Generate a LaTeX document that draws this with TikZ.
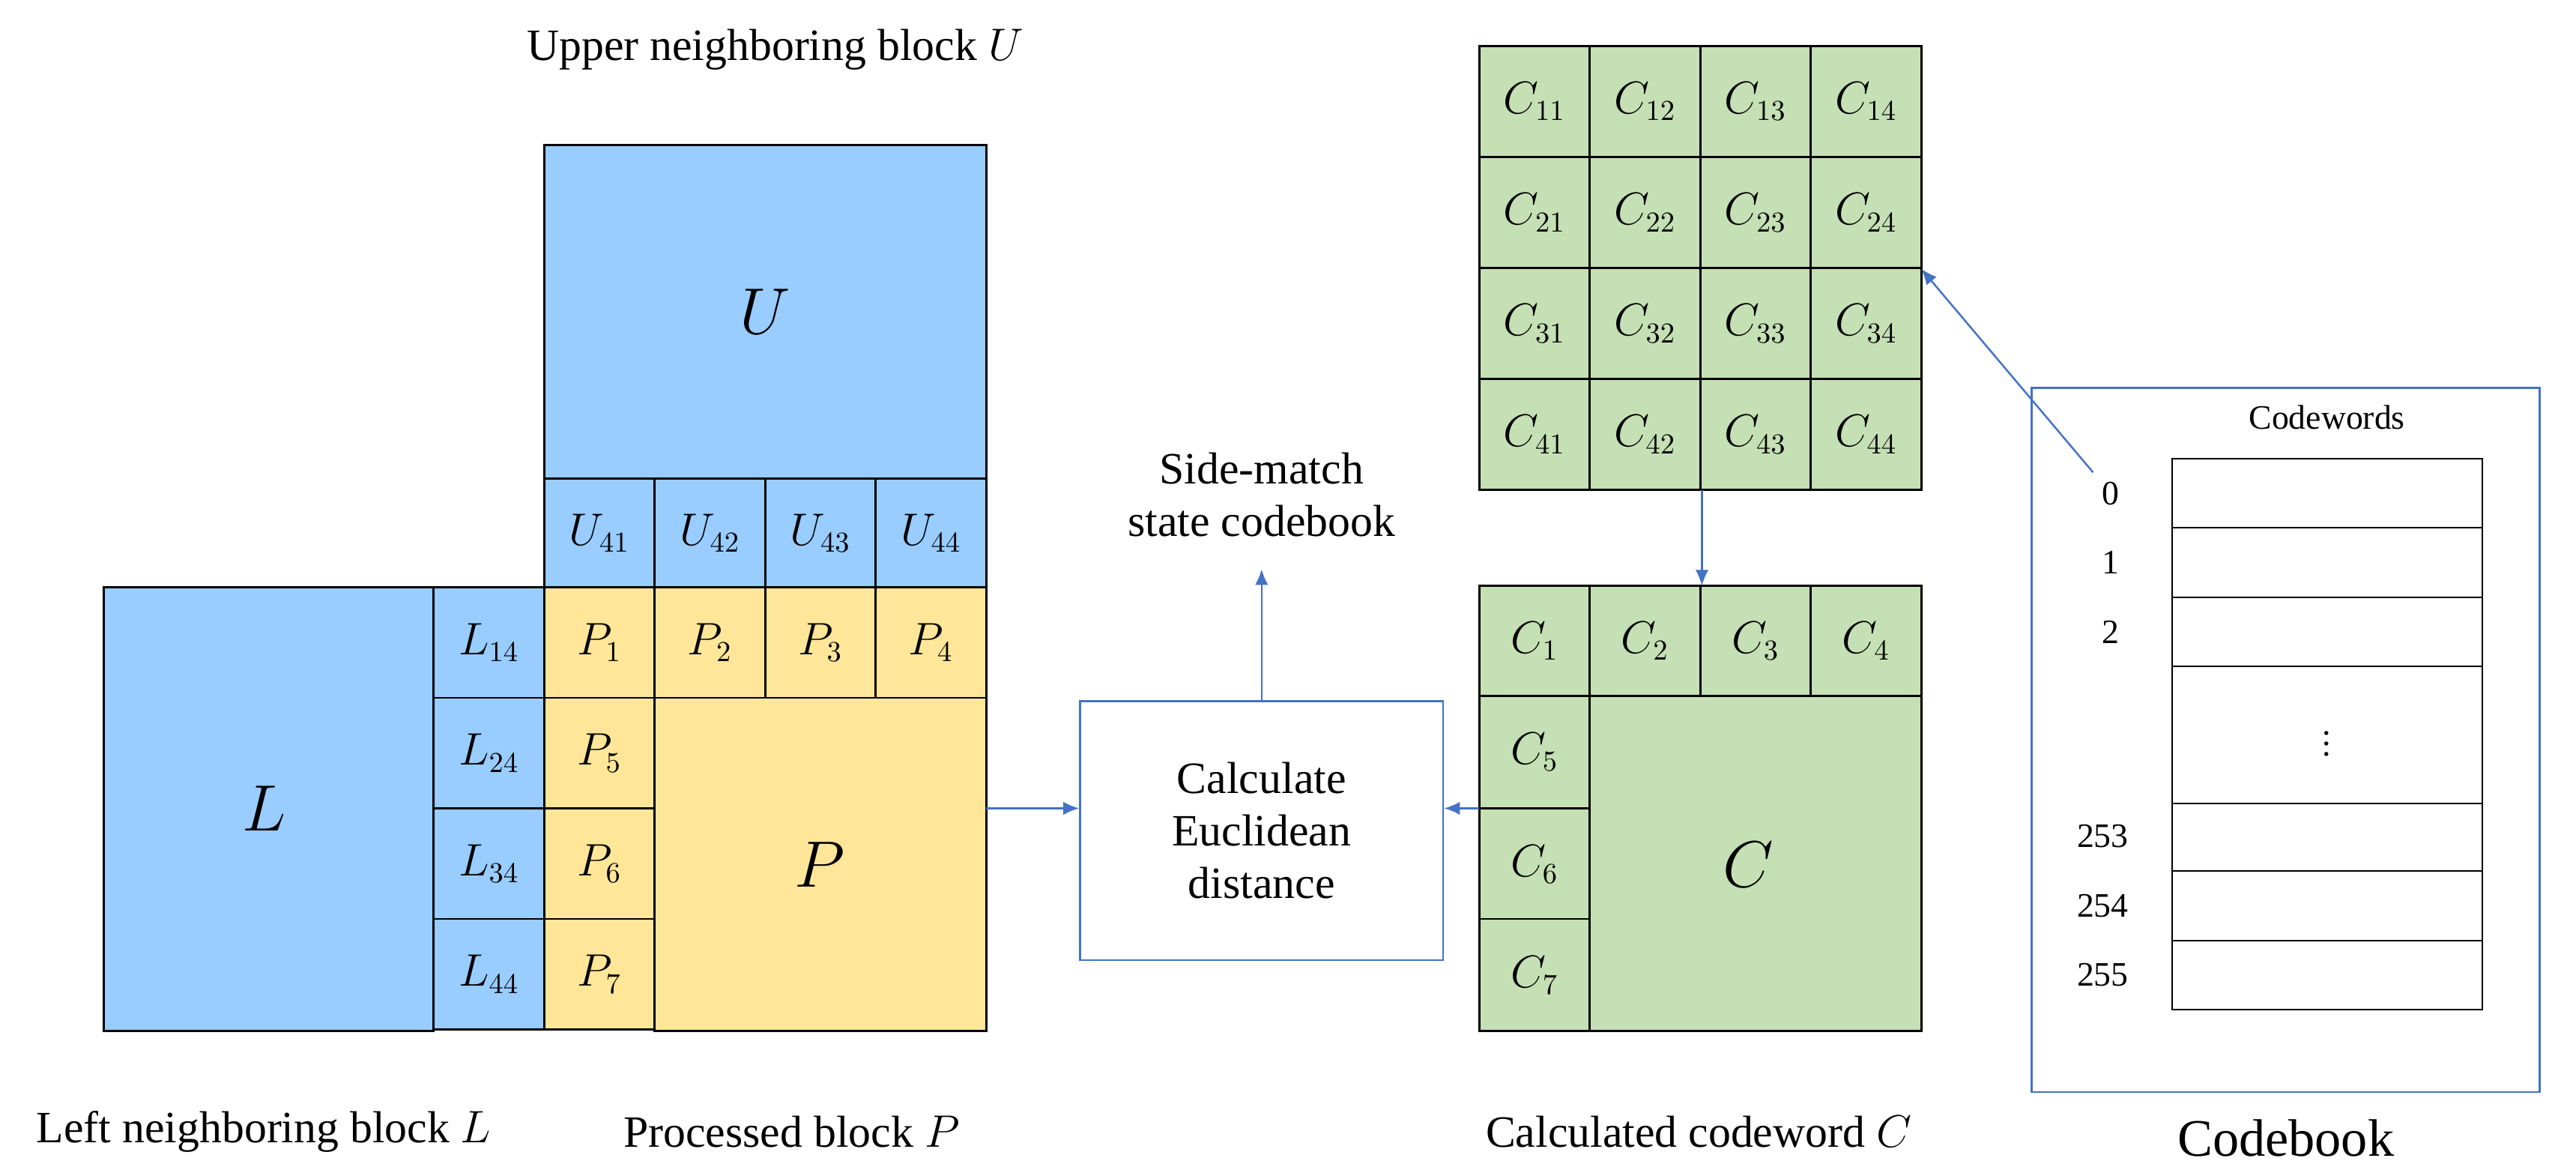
\documentclass[tikz,border=0pt]{standalone}
\usepackage{fontspec}
\setmainfont{Liberation Serif}
\usetikzlibrary{arrows.meta}
\definecolor{cb}{HTML}{99CCFF}
\definecolor{cy}{HTML}{FFE699}
\definecolor{cg}{HTML}{C5E0B4}
\definecolor{ar}{HTML}{4472C4}
\begin{document}
\begin{tikzpicture}[x=0.022cm,y=-0.022cm,
 cell/.style={draw=black,line width=0.8pt},
 lab/.style={font=\fontsize{16}{18}\selectfont},
 big/.style={font=\fontsize{38}{40}\selectfont},
 capt/.style={font=\fontsize{17}{20}\selectfont},
 num/.style={font=\fontsize{13}{15}\selectfont},
 arr/.style={draw=ar,line width=0.7pt,-{Latex[length=6pt,width=5pt]}}]
\useasboundingbox (0,0) rectangle (1562,707);
% U
\draw[cell,fill=cb] (330,88) rectangle (598,290);
\node[big] (U) at (464,189) {$U$};
\foreach \i/\x in {1/330,2/397,3/464,4/531}{
 \draw[cell,fill=cb] (\x,290) rectangle +(67,66);
 \node[lab] (u\i) at (\x+33.5,323) {$U_{4\i}$};
 \draw[cell,fill=cy] (\x,356) rectangle +(67,67);
 \node[lab] (p\i) at (\x+33.5,389.5) {$P_{\i}$};}
\draw[cell,fill=cy] (397,423) rectangle (598,625);
\node[big] (P) at (497,524) {$P$};
\foreach \i/\y in {5/423,6/490,7/557}{
 \draw[cell,fill=cy] (330,\y) rectangle +(67,67);
 \node[lab] (p\i) at (363.5,\y+33.5) {$P_{\i}$};}
% L
\draw[cell,fill=cb] (63,356) rectangle (263,625);
\node[big] (L) at (160,490) {$L$};
\foreach \i/\y in {1/356,2/423,3/490,4/557}{
 \draw[cell,fill=cb] (263,\y) rectangle +(67,67);
 \node[lab] (l\i) at (296.5,\y+33.5) {$L_{\i4}$};}
% C grid
\foreach \r in {1,...,4}{\foreach \c in {1,...,4}{
 \draw[cell,fill=cg] (897+67*\c-67,28+67.25*\r-67.25) rectangle +(67,67.25);
 \node[lab] (g\r\c) at (897+67*\c-33.5,28+67.25*\r-33.6) {$C_{\r\c}$};}}
\coordinate (gb) at (1032,297);
\coordinate (gr) at (1165,163);
% C block
\draw[cell,fill=cg] (964,422) rectangle (1165,625);
\node[big] (C) at (1060,524) {$C$};
\foreach \i/\x in {1/897,2/964,3/1031,4/1098}{
 \draw[cell,fill=cg] (\x,355) rectangle +(67,67);
 \node[lab] (c\i) at (\x+33.5,388.5) {$C_{\i}$};}
\foreach \i/\y/\h in {5/422/68,6/490/67,7/557/68}{
 \draw[cell,fill=cg] (897,\y) rectangle +(67,\h);
 \node[lab] (c\i) at (930.5,\y+34) {$C_{\i}$};}
\coordinate (ct) at (1032,355);
\coordinate (cl) at (897,490);
\coordinate (pr) at (598,490);
% calc box
\node[draw=ar,line width=0.8pt,minimum width=220*0.022cm,minimum height=157*0.022cm,align=center,capt,inner sep=0pt] (calc) at (765,503.5) {Calculate\\Euclidean\\distance};
\coordinate (sm) at (765,345);
\node[capt,align=center] (smt) at (765,300) {Side-match\\state codebook};
\draw[arr] (pr) -- (calc.west|-pr);
\draw[arr] (cl) -- (calc.east|-cl);
\draw[arr] (calc.north) -- (sm);
\draw[arr] (gb) -- (ct);
% codebook
\draw[ar,line width=0.8pt] (1232,235) rectangle (1540,662);
\node[num] (cw) at (1411,253) {Codewords};
\foreach \a/\b in {278/320,320/362,362/404,404/487,487/528,528/570,570/612}
 \draw[black,line width=0.6pt] (1317,\a) rectangle (1505,\b);
\node[num] (n0) at (1280,299) {0};
\node[num] (n1) at (1280,341) {1};
\node[num] (n2) at (1280,383) {2};
\node[num] (nd) at (1411,446) {$\vdots$};
\node[num] (n253) at (1275,507) {253};
\node[num] (n254) at (1275,549) {254};
\node[num] (n255) at (1275,591) {255};
\draw[arr] (n0.north west) -- (gr);
\node[font=\fontsize{20}{24}\selectfont] (cbk) at (1386,690) {Codebook};
% captions
\node[capt] (t1) at (470,30) {Upper neighboring block $U$};
\node[capt] (t2) at (160,686) {Left neighboring block $L$};
\node[capt] (t3) at (480,686) {Processed block $P$};
\node[capt] (t4) at (1030,686) {Calculated codeword $C$};
\end{tikzpicture}
\end{document}
